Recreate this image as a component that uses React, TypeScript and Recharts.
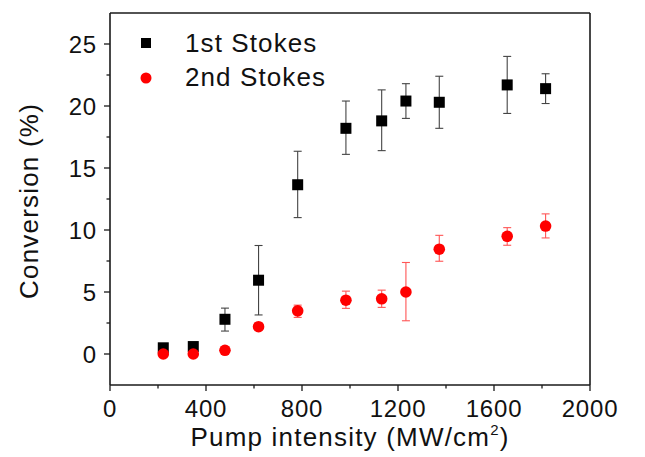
import React from 'react';
import { ScatterChart, Scatter, XAxis, YAxis, ErrorBar, Legend, ReferenceLine } from 'recharts';

const intensity = [222, 347, 479, 619, 782, 983, 1132, 1233, 1372, 1655, 1815];
const stokes1 = [0.5, 0.6, 2.8, 5.95, 13.65, 18.2, 18.8, 20.4, 20.3, 21.7, 21.4];
const stokes1ErrLow = [0.3, 0.3, 0.95, 2.8, 2.65, 2.1, 2.4, 1.4, 2.1, 2.3, 1.2];
const stokes1ErrHigh = [0.3, 0.3, 0.9, 2.8, 2.7, 2.2, 2.5, 1.4, 2.1, 2.3, 1.2];
const stokes2 = [0.0, 0.0, 0.3, 2.2, 3.48, 4.34, 4.45, 5.0, 8.45, 9.49, 10.32];
const stokes2ErrLow = [0, 0, 0, 0, 0.53, 0.66, 0.69, 2.32, 0.97, 0.72, 0.96];
const stokes2ErrHigh = [0, 0, 0, 0, 0.46, 0.73, 0.7, 2.38, 1.12, 0.7, 0.98];

const xTicks = [0, 200, 400, 600, 800, 1000, 1200, 1400, 1600, 1800, 2000];
const yTicks = [0, 2.5, 5, 7.5, 10, 12.5, 15, 17.5, 20, 22.5, 25];
const xDomain = [0, 2000];
const yDomain = [-2.5, 27.5];

const seriesNames = ['1st Stokes', '2nd Stokes'];

const data1 = intensity.map((x, i) => ({ x, y: stokes1[i], err: [stokes1ErrLow[i], stokes1ErrHigh[i]] }));
const data2 = intensity.map((x, i) => ({ x, y: stokes2[i], err: [stokes2ErrLow[i], stokes2ErrHigh[i]] }));

const FONT = '"Liberation Sans", Arial, sans-serif';
const AXIS = '#1a1a1a';

const XTick = (props: any) => {
  const { x, y, payload } = props;
  const v = payload.value;
  const major = v % 400 === 0;
  return (
    <g>
      <line x1={x} y1={y} x2={x} y2={y + (major ? 6 : 3.5)} stroke={AXIS} strokeWidth={1.3} />
      {major && (
        <text x={x} y={y + 32} textAnchor="middle" fontFamily={FONT} fontSize={24} letterSpacing={0.8} fill="#111">
          {v}
        </text>
      )}
    </g>
  );
};

const YTick = (props: any) => {
  const { x, y, payload } = props;
  const v = payload.value;
  const major = v % 5 === 0;
  return (
    <g>
      <line x1={x} y1={y} x2={x - (major ? 6 : 3.5)} y2={y} stroke={AXIS} strokeWidth={1.3} />
      {major && (
        <text x={x - 13} y={y} dy="0.36em" textAnchor="end" fontFamily={FONT} fontSize={24} letterSpacing={0.8} fill="#111">
          {v}
        </text>
      )}
    </g>
  );
};

const XTitle = (props: any) => {
  const vb = props.viewBox;
  const cx = vb.x + vb.width / 2;
  return (
    <text x={cx} y={vb.y + 61} textAnchor="middle" fontFamily={FONT} fontSize={26} letterSpacing={1.2} fill="#111">
      Pump intensity (MW/cm
      <tspan dy={-11} fontSize={15}>2</tspan>
      <tspan dy={11}>)</tspan>
    </text>
  );
};

const YTitle = (props: any) => {
  const vb = props.viewBox;
  const cx = vb.x + 29;
  const cy = vb.y + vb.height / 2 + 2;
  return (
    <text
      x={cx}
      y={cy}
      dy="0.36em"
      textAnchor="middle"
      transform={`rotate(-90, ${cx}, ${cy})`}
      fontFamily={FONT}
      fontSize={26}
      letterSpacing={1.2}
      fill="#111"
    >
      Conversion (%)
    </text>
  );
};

const LegendContent = (props: any) => {
  const payload = props.payload || [];
  return (
    <div style={{ position: 'relative', width: 300, fontFamily: FONT }}>
      {payload.map((entry: any, i: number) => (
        <div
          key={i}
          style={{ display: 'flex', alignItems: 'center', height: 34.5, position: 'absolute', left: 0, top: 26 + i * 34.5 }}
        >
          <svg width={16} height={16} style={{ display: 'block' }}>
            {i === 0 ? (
              <rect x={3} y={3} width={10} height={10} fill="#000" />
            ) : (
              <circle cx={8} cy={8} r={5.5} fill="#ff0000" />
            )}
          </svg>
          <span style={{ marginLeft: 31, fontSize: 26, letterSpacing: 1.1, color: '#111', whiteSpace: 'nowrap' }}>
            {entry.value}
          </span>
        </div>
      ))}
    </div>
  );
};

const SquareShape = (p: any) => <rect x={p.cx - 5.5} y={p.cy - 5.5} width={11} height={11} fill="#000" />;
const CircleShape = (p: any) => <circle cx={p.cx} cy={p.cy} r={5.8} fill="#ff0000" />;

export default function App() {
  return (
    <div style={{ position: 'absolute', left: 0, top: 0, width: 645, height: 457, background: '#fff' }}>
      <ScatterChart width={645} height={457} margin={{ top: 13, right: 55, left: 0, bottom: 0 }}>
        <XAxis
          xAxisId="main"
          dataKey="x"
          type="number"
          domain={xDomain}
          ticks={xTicks}
          interval={0}
          height={72}
          tickSize={0}
          tickMargin={0}
          tickLine={false}
          axisLine={{ stroke: AXIS, strokeWidth: 1.6 }}
          tick={(p: any) => <XTick {...p} />}
          label={(p: any) => <XTitle {...p} />}
          allowDataOverflow
        />
        <YAxis
          yAxisId="main"
          dataKey="y"
          type="number"
          domain={yDomain}
          ticks={yTicks}
          interval={0}
          width={110}
          tickSize={0}
          tickMargin={0}
          tickLine={false}
          axisLine={{ stroke: AXIS, strokeWidth: 1.6 }}
          tick={(p: any) => <YTick {...p} />}
          label={(p: any) => <YTitle {...p} />}
          allowDataOverflow
        />
        <ReferenceLine xAxisId="main" yAxisId="main" y={yDomain[1]} stroke={AXIS} strokeWidth={1.6} ifOverflow="visible" />
        <ReferenceLine xAxisId="main" yAxisId="main" x={xDomain[1]} stroke={AXIS} strokeWidth={1.6} ifOverflow="visible" />
        <Legend
          layout="vertical"
          align="center"
          verticalAlign="middle"
          wrapperStyle={{ left: 138, top: 0, width: 300, height: 0 }}
          content={(p: any) => <LegendContent {...p} />}
        />
        <Scatter
          name={seriesNames[0]}
          data={data1}
          xAxisId="main"
          yAxisId="main"
          fill="#000"
          shape={(p: any) => <SquareShape {...p} />}
          isAnimationActive={false}
        >
          <ErrorBar dataKey="err" direction="y" width={4} stroke="#444" strokeWidth={1.1} />
        </Scatter>
        <Scatter
          name={seriesNames[1]}
          data={data2}
          xAxisId="main"
          yAxisId="main"
          fill="#ff0000"
          shape={(p: any) => <CircleShape {...p} />}
          isAnimationActive={false}
        >
          <ErrorBar dataKey="err" direction="y" width={4} stroke="#ff5555" strokeWidth={1.1} />
        </Scatter>
      </ScatterChart>
    </div>
  );
}
